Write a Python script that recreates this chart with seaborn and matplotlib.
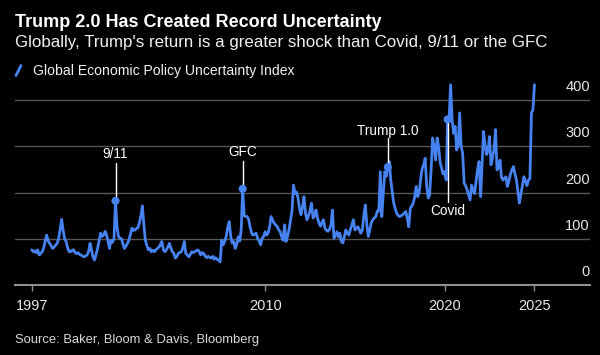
import matplotlib
matplotlib.use("Agg")
import numpy as np
import pandas as pd
import matplotlib.pyplot as plt
import matplotlib.dates as mdates
import seaborn as sns

# ---------------- data (monthly, Jan 1997 - Jan 2025) ----------------
gepu_1997_2003 = [
    76, 72, 74, 70, 76, 65, 68, 72, 80, 95, 108, 95,
    90, 84, 79, 82, 86, 90, 100, 120, 142, 118, 100, 94,
    80, 72, 72, 75, 76, 70, 68, 70, 66, 65, 62, 61,
    63, 65, 72, 90, 76, 60, 54, 66, 79, 95, 112, 105,
    108, 116, 109, 95, 79, 97, 92, 100, 182, 125, 105, 101,
    100, 88, 79, 84, 90, 97, 110, 123, 118, 119, 122, 124,
    135, 150, 171, 130, 97, 85, 76, 79, 72, 75, 72, 76,
]
gepu_2004_2010 = [
    79, 82, 87, 94, 76, 72, 76, 82, 90, 80, 72, 68,
    58, 62, 68, 70, 72, 80, 94, 68, 65, 61, 66, 72,
    70, 72, 74, 76, 72, 65, 70, 68, 62, 59, 62, 60,
    58, 62, 56, 59, 55, 54, 50, 97, 87, 94, 105, 125,
    137, 105, 91, 94, 79, 87, 104, 95, 120, 208, 150, 148,
    148, 141, 125, 112, 108, 110, 112, 101, 95, 87, 101, 105,
    115, 108, 112, 125, 148, 141, 134, 130, 127, 120, 115, 105,
]
gepu_2011_2017 = [
    97, 130, 94, 105, 119, 140, 160, 216, 198, 201, 188, 165,
    152, 170, 191, 155, 141, 150, 160, 177, 145, 150, 162, 145,
    134, 127, 135, 141, 123, 118, 116, 120, 130, 162, 101, 108,
    115, 104, 112, 94, 91, 105, 119, 112, 108, 120, 130, 141,
    119, 122, 126, 120, 112, 118, 150, 173, 130, 105, 120, 135,
    141, 145, 148, 160, 160, 245, 148, 200, 245, 235, 255, 267,
    225, 200, 177, 165, 155, 150, 148, 150, 152, 155, 159, 145,
]
gepu_2018_2025 = [
    126, 166, 170, 177, 190, 213, 191, 200, 230, 252, 260, 274,
    213, 188, 195, 250, 318, 300, 270, 318, 299, 265, 252, 240,
    245, 227, 358, 361, 433, 357, 328, 343, 292, 300, 372, 300,
    285, 220, 215, 206, 195, 184, 216, 205, 198, 225, 250, 267,
    191, 260, 332, 303, 282, 290, 321, 260, 275, 292, 336, 249,
    255, 270, 234, 227, 230, 234, 213, 225, 240, 249, 256, 240,
    227, 200, 177, 198, 215, 234, 224, 215, 227, 230, 372, 379,
    433,
]
start_month = "1997-01-01"

event_labels = ["9/11", "GFC", "Trump 1.0", "Covid"]
event_months = ["2001-09-01", "2008-10-01", "2016-11-01", "2020-03-01"]

x_tick_years = ["1997", "2010", "2020", "2025"]
y_ticks = [0, 100, 200, 300, 400]

title = "Trump 2.0 Has Created Record Uncertainty"
subtitle = "Globally, Trump's return is a greater shock than Covid, 9/11 or the GFC"
legend_label = "Global Economic Policy Uncertainty Index"
source = "Source: Baker, Bloom & Davis, Bloomberg"

# ---------------- build frame ----------------
values = gepu_1997_2003 + gepu_2004_2010 + gepu_2011_2017 + gepu_2018_2025
dates = pd.date_range(start_month, periods=len(values), freq="MS")
df = pd.DataFrame({"date": dates, "value": values})

# ---------------- style ----------------
sns.set_theme(style="dark")
plt.rcParams["font.family"] = ["Liberation Sans", "DejaVu Sans"]
BG = "#000000"
BLUE = "#4682f0"
GRID = "#565656"
AXIS = "#8e8e8e"
W, H = 600, 355

fig = plt.figure(figsize=(W / 100, H / 100), dpi=100, facecolor=BG)
ax_left, ax_right, ax_bottom, ax_top = 15, 590, 285, 78
ax = fig.add_axes([ax_left / W, 1 - ax_bottom / H,
                   (ax_right - ax_left) / W, (ax_bottom - ax_top) / H])
ax.set_facecolor(BG)

sns.lineplot(data=df, x="date", y="value", ax=ax, color=BLUE, linewidth=2.0,
             zorder=3)

px_per_unit = (285 - 100) / 400.0
ax.set_ylim(0, (ax_bottom - ax_top) / px_per_unit)
ax.set_xlim(pd.Timestamp("1996-01-26"), pd.Timestamp("2028-02-05"))

# grid
ax.set_yticks(y_ticks)
ax.yaxis.grid(True, color=GRID, linewidth=1.0)
ax.xaxis.grid(False)
ax.set_axisbelow(True)
ax.tick_params(axis="y", left=False, right=False, labelleft=False, labelright=False)

# y labels (right, above grid lines)
for v in y_ticks:
    ax.annotate(str(v), xy=(1.0, v), xycoords=("axes fraction", "data"),
                xytext=(0, 13), textcoords="offset pixels",
                ha="right", va="center", color="#e8e8e8", fontsize=10.5)

# x ticks
ax.set_xticks([pd.Timestamp(y + "-01-01") for y in x_tick_years])
ax.set_xticklabels(x_tick_years)
ax.tick_params(axis="x", bottom=True, length=4.5, width=1.0, color=AXIS,
               labelcolor="#e8e8e8", labelsize=10.5, pad=5.5)
ax.set_xlabel("")
ax.set_ylabel("")

for s in ["left", "right", "top"]:
    ax.spines[s].set_visible(False)
ax.spines["bottom"].set_color(AXIS)
ax.spines["bottom"].set_linewidth(1.5)

# event annotations
label_pos = {"9/11": 283, "GFC": 288, "Trump 1.0": 333, "Covid": 161}
line_end = {"9/11": 263, "GFC": 268, "Trump 1.0": 317, "Covid": 180}
for lab, m in zip(event_labels, event_months):
    d = pd.Timestamp(m)
    val = df.loc[df["date"] == d, "value"].iloc[0]
    ax.plot([d, d], [val, line_end[lab]], color="white", linewidth=1.0, zorder=4)
    ax.scatter([d], [val], s=34, color=BLUE, zorder=5, edgecolor="none")
    ax.text(d, label_pos[lab], lab, ha="center", va="center", color="white",
            fontsize=9.8, zorder=6)

# header text
fig.text(15 / W, 1 - 27 / H, title, color="white", fontsize=13,
         fontweight="bold", va="baseline", ha="left")
fig.text(15 / W, 1 - 47 / H, subtitle, color="#f0f0f0", fontsize=12.2,
         va="baseline", ha="left")
fig.lines.append(plt.Line2D([16 / W, 21 / W], [1 - 75.5 / H, 1 - 65.5 / H],
                            transform=fig.transFigure, color=BLUE, linewidth=2))
fig.text(33 / W, 1 - 74.5 / H, legend_label, color="#f0f0f0", fontsize=10.1,
         va="baseline", ha="left")
fig.text(15 / W, 1 - 343 / H, source, color="#d8d8d8", fontsize=9.4,
         va="baseline", ha="left")

fig.savefig("out.png", dpi=100, facecolor=BG)
